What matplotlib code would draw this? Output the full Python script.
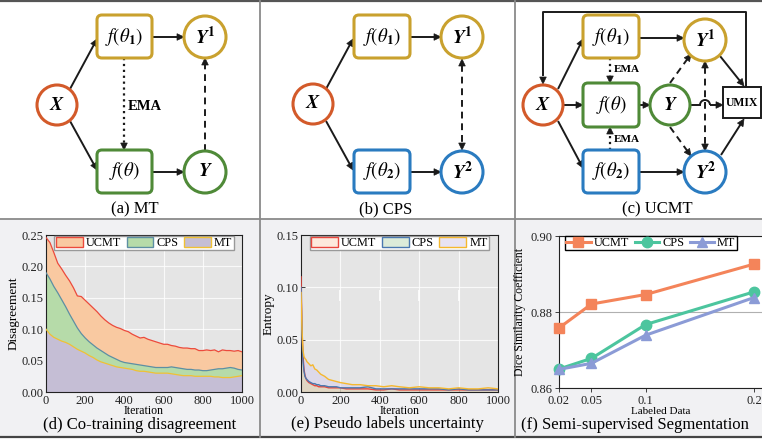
import numpy as np
import matplotlib
matplotlib.use('Agg')
import matplotlib.pyplot as plt
from matplotlib.patches import Circle, FancyBboxPatch, Rectangle, Arc, Patch, Polygon
from matplotlib.lines import Line2D

plt.rcParams['font.family'] = ['Liberation Serif', 'DejaVu Serif']
plt.rcParams['mathtext.fontset'] = 'stix'

# ---------------- data ----------------
iters_d = [0, 20, 40, 60, 80, 100, 120, 140, 160, 180, 200, 220, 240, 260, 280, 300,
           320, 340, 360, 380, 400, 420, 440, 460, 480, 500, 520, 540, 560, 580, 600,
           620, 640, 660, 680, 700, 720, 740, 760, 780, 800, 820, 840, 860, 880, 900,
           920, 940, 960, 980, 1000]
ucmt_d = [0.246, 0.238, 0.222, 0.205, 0.196, 0.186, 0.177, 0.166, 0.153, 0.152, 0.146,
          0.140, 0.134, 0.128, 0.121, 0.115, 0.110, 0.106, 0.103, 0.101, 0.098, 0.096,
          0.092, 0.089, 0.086, 0.087, 0.084, 0.082, 0.080, 0.078, 0.076, 0.076, 0.074,
          0.073, 0.071, 0.070, 0.070, 0.069, 0.069, 0.066, 0.066, 0.067, 0.066, 0.067,
          0.064, 0.067, 0.066, 0.066, 0.065, 0.066, 0.064]
cps_d = [0.190, 0.180, 0.168, 0.158, 0.147, 0.136, 0.124, 0.113, 0.102, 0.093, 0.086,
         0.080, 0.075, 0.070, 0.066, 0.062, 0.058, 0.055, 0.052, 0.049, 0.047, 0.046,
         0.045, 0.044, 0.043, 0.042, 0.041, 0.040, 0.039, 0.039, 0.039, 0.039, 0.040,
         0.039, 0.038, 0.037, 0.036, 0.036, 0.035, 0.035, 0.034, 0.034, 0.035, 0.036,
         0.037, 0.037, 0.038, 0.039, 0.038, 0.036, 0.035]
mt_d = [0.100, 0.092, 0.087, 0.084, 0.081, 0.079, 0.076, 0.072, 0.068, 0.065, 0.062,
        0.058, 0.055, 0.051, 0.048, 0.046, 0.044, 0.042, 0.040, 0.039, 0.038, 0.037,
        0.036, 0.034, 0.033, 0.033, 0.032, 0.031, 0.030, 0.030, 0.030, 0.030, 0.029,
        0.028, 0.027, 0.026, 0.026, 0.026, 0.025, 0.025, 0.025, 0.025, 0.025, 0.024,
        0.024, 0.023, 0.023, 0.023, 0.024, 0.025, 0.026]

iters_e = [0, 5, 10, 15, 20, 25, 30, 40, 50, 60, 70, 80, 90, 100, 120, 140, 160, 180,
           200, 230, 260, 300, 340, 380, 420, 460, 500, 550, 600, 650, 700, 750, 800,
           850, 900, 950, 1000]
ucmt_e = [0.110, 0.060, 0.035, 0.022, 0.016, 0.013, 0.011, 0.009, 0.008, 0.007, 0.006,
          0.006, 0.005, 0.005, 0.005, 0.004, 0.004, 0.004, 0.004, 0.003, 0.003, 0.003,
          0.003, 0.002, 0.002, 0.003, 0.002, 0.002, 0.002, 0.002, 0.002, 0.002, 0.002,
          0.002, 0.002, 0.002, 0.002]
cps_e = [0.100, 0.055, 0.030, 0.020, 0.015, 0.013, 0.012, 0.010, 0.009, 0.008, 0.008,
         0.007, 0.007, 0.006, 0.006, 0.005, 0.005, 0.005, 0.004, 0.004, 0.004, 0.004,
         0.005, 0.003, 0.003, 0.003, 0.003, 0.003, 0.003, 0.003, 0.003, 0.002, 0.003,
         0.002, 0.002, 0.002, 0.002]
mt_e = [0.095, 0.060, 0.040, 0.034, 0.032, 0.031, 0.029, 0.027, 0.025, 0.026, 0.022,
        0.021, 0.019, 0.017, 0.015, 0.012, 0.011, 0.010, 0.009, 0.008, 0.007, 0.007,
        0.006, 0.006, 0.005, 0.006, 0.005, 0.004, 0.005, 0.004, 0.004, 0.003, 0.004,
        0.003, 0.003, 0.004, 0.003]

labeled_f = [0.02, 0.05, 0.1, 0.2]
labeled_ticks = ['0.02', '0.05', '0.1', '0.2']
ucmt_f = [0.8758, 0.8821, 0.8846, 0.8926]
cps_f = [0.8650, 0.8678, 0.8767, 0.8853]
mt_f = [0.8649, 0.8665, 0.8739, 0.8838]

series_names = ['UCMT', 'CPS', 'MT']

# ---------------- figure ----------------
W, H = 762, 440
fig = plt.figure(figsize=(W / 100, H / 100), dpi=100)
fig.patch.set_facecolor('white')
ov = fig.add_axes([0, 0, 1, 1], zorder=0)
ov.set_xlim(0, W)
ov.set_ylim(H, 0)
ov.axis('off')


def px_axes(l, t, r, b, **kw):
    return fig.add_axes([l / W, 1 - b / H, (r - l) / W, (b - t) / H], **kw)


# background of bottom row and frame lines
ov.add_patch(Rectangle((0, 219), W, 218, facecolor='#f1f1f3', edgecolor='none', zorder=0))
ov.plot([0, W], [1, 1], color='#555555', lw=1.6, zorder=1)
ov.plot([0, W], [219, 219], color='#8a8a8a', lw=1.3, zorder=1)
ov.plot([0, W], [437, 437], color='#444444', lw=1.6, zorder=1)
for xv in (260, 515):
    ov.plot([xv, xv], [1, 437], color='#8a8a8a', lw=1.3, zorder=1)

ORANGE = '#d35a2a'
GOLD = '#c9a12e'
GREEN = '#4f8a38'
BLUE = '#2a7bc0'
ARROW = '#1a1a1a'
HL, HW = 7.0, 3.3


def head(tip, u):
    n = np.array([-u[1], u[0]])
    pts = [tip, tip - u * HL + n * HW, tip - u * HL - n * HW]
    ov.add_patch(Polygon(pts, closed=True, facecolor=ARROW, edgecolor=ARROW, lw=0.5, zorder=4))


def arrow(p0, p1, ls='-', both=False, lw=1.4, headed=True):
    p0 = np.array(p0, float)
    p1 = np.array(p1, float)
    d = p1 - p0
    u = d / np.hypot(*d)
    a = p0 + (u * HL * 0.8 if both else 0)
    b = p1 - (u * HL * 0.8 if headed else 0)
    ov.plot([a[0], b[0]], [a[1], b[1]], color=ARROW, lw=lw, ls=ls,
            solid_capstyle='butt', dash_capstyle='butt', zorder=3)
    if headed:
        head(p1, u)
    if both:
        head(p0, -u)


def circ(x, y, r, c, label, fs=14):
    ov.add_patch(Circle((x, y), r, facecolor='white', edgecolor=c, lw=2.2, zorder=5))
    ov.text(x, y, label, ha='center', va='center', fontsize=fs, zorder=6)


def box(x0, y0, x1, y1, c, label, fs=13.5):
    ov.add_patch(FancyBboxPatch((x0, y0), x1 - x0, y1 - y0,
                                boxstyle='round,pad=0,rounding_size=5',
                                facecolor='white', edgecolor=c, lw=2.2, zorder=5))
    ov.text((x0 + x1) / 2, (y0 + y1) / 2, label, ha='center', va='center', fontsize=fs, zorder=6)


LX = r'$\mathbfit{X}$'
LY = r'$\mathbfit{Y}$'
LY1 = r'$\mathbfit{Y}^{\mathbf{1}}$'
LY2 = r'$\mathbfit{Y}^{\mathbf{2}}$'
LF1 = r'$f(\theta_{\mathbf{1}})$'
LF2 = r'$f(\theta_{\mathbf{2}})$'
LF = r'$f(\theta)$'
DASH = (0, (3.5, 2.5))

# ----- (a) MT -----
arrow((70, 89), (97, 39))
arrow((70, 121), (97, 170))
arrow((152, 37), (184, 37))
arrow((152, 172), (184, 172))
arrow((124, 58), (124, 150), ls=':', lw=1.6)
arrow((205, 151), (205, 58), ls=DASH)
circ(57, 105, 20, ORANGE, LX)
box(97, 15, 152, 58, GOLD, LF1)
box(97, 150, 152, 193, GREEN, LF)
circ(205, 37, 21, GOLD, LY1)
circ(205, 172, 21, GREEN, LY)
ov.text(128, 107, 'EMA', ha='left', va='center', fontsize=10.5, fontweight='bold')
ov.text(135, 209, '(a) MT', ha='center', va='center', fontsize=12)

# ----- (b) CPS -----
o = 256
arrow((o + 70, 89), (o + 97, 39))
arrow((o + 70, 121), (o + 97, 170))
arrow((o + 154, 37), (o + 185, 37))
arrow((o + 154, 172), (o + 185, 172))
arrow((o + 206, 59), (o + 206, 150), ls=DASH, both=True)
circ(o + 57, 104, 20, ORANGE, LX)
box(o + 98, 15, o + 154, 58, GOLD, LF1)
box(o + 98, 150, o + 154, 193, BLUE, LF2)
circ(o + 206, 37, 21, GOLD, LY1)
circ(o + 206, 172, 21, BLUE, LY2)
ov.text(386, 209, '(b) CPS', ha='center', va='center', fontsize=12)

# ----- (c) UCMT -----
ov.plot([746, 746, 543, 543], [87, 12, 12, 75], color=ARROW, lw=1.4, zorder=3)
head(np.array([543.0, 84.0]), np.array([0.0, 1.0]))
arrow((558, 89), (583, 39))
arrow((563, 105), (583, 105))
arrow((558, 121), (583, 168))
arrow((639, 38), (684, 38))
arrow((639, 105), (650, 105))
arrow((639, 172), (684, 172))
arrow((670, 83), (691, 54), ls=DASH)
arrow((670, 127), (691, 156), ls=DASH)
arrow((705, 61), (705, 151), ls=DASH, both=True)
ov.plot([690, 700], [105, 105], color=ARROW, lw=1.4, zorder=3)
ov.add_patch(Arc((705, 105), 10, 10, theta1=180, theta2=360, color=ARROW, lw=1.4, zorder=3))
arrow((710, 105), (723, 105))
arrow((720, 56), (744, 86))
arrow((721, 155), (744, 119))
circ(543, 105, 20, ORANGE, LX)
box(583, 15, 639, 58, GOLD, LF1)
box(583, 83, 639, 127, GREEN, LF)
box(583, 150, 639, 193, BLUE, LF2)
arrow((610, 58), (610, 83), ls=':', lw=1.6)
arrow((610, 150), (610, 127), ls=':', lw=1.6)
ov.text(614, 70, 'EMA', ha='left', va='center', fontsize=8, fontweight='bold', zorder=6)
ov.text(614, 139, 'EMA', ha='left', va='center', fontsize=8, fontweight='bold', zorder=6)
circ(670, 105, 20, GREEN, LY)
circ(705, 40, 21, GOLD, LY1)
circ(705, 172, 21, BLUE, LY2)
ov.add_patch(Rectangle((723, 87), 38, 31, facecolor='white', edgecolor=ARROW, lw=1.4, zorder=5))
ov.text(742, 103, 'UMIX', ha='center', va='center', fontsize=8.5, fontweight='bold', zorder=6)
ov.text(657, 209, '(c) UCMT', ha='center', va='center', fontsize=12)


# ---------------- plots ----------------
def style_gray(ax):
    ax.set_facecolor('#e5e5e5')
    ax.grid(True, color='white', lw=0.8, alpha=0.8)
    ax.set_axisbelow(True)
    for s in ax.spines.values():
        s.set_color('#222222')
        s.set_linewidth(0.8)
    ax.tick_params(direction='in', length=3, width=0.6, labelsize=9, pad=2, colors='#222222')


LEG_KW = dict(ncol=3, fontsize=8.8, fancybox=False, framealpha=1, handlelength=2.2,
              handleheight=0.9, columnspacing=0.45, handletextpad=0.25, borderpad=0.1)

# (d)
ax_d = px_axes(46, 235, 242, 392, zorder=1)
style_gray(ax_d)
fills_d = ['#f9c9a1', '#b6dba9', '#c5bed5']
lines_d = ['#ec4a3c', '#5d8fa3', '#f0c134']
for vals, fc, lc in zip([ucmt_d, cps_d, mt_d], fills_d, lines_d):
    ax_d.fill_between(iters_d, 0, vals, facecolor=fc, edgecolor='none', zorder=2)
    ax_d.plot(iters_d, vals, color=lc, lw=0.9, zorder=3)
ax_d.set_xlim(0, 1000)
ax_d.set_ylim(0, 0.25)
ax_d.set_xticks([0, 200, 400, 600, 800, 1000])
ax_d.set_yticks([0, 0.05, 0.10, 0.15, 0.20, 0.25])
ax_d.set_yticklabels(['0.00', '0.05', '0.10', '0.15', '0.20', '0.25'])
ax_d.set_xlabel('Iteration', fontsize=8.5, labelpad=-1.5)
ax_d.set_ylabel('Disagreement', fontsize=9.5, labelpad=1)
hd = [Patch(facecolor=fc, edgecolor=lc, lw=1.0) for fc, lc in zip(fills_d, lines_d)]
ax_d.legend(hd, series_names, loc='upper center', edgecolor='#999999', borderaxespad=0.05, **LEG_KW)
ov.text(140, 425, '(d) Co-training disagreement', ha='center', va='center', fontsize=12)

# (e)
ax_e = px_axes(301, 235, 498, 392, zorder=1)
style_gray(ax_e)
fills_e = ['#fbd3b4', '#b8dbb3', '#d3caee']
lines_e = ['#e8453c', '#4a78b0', '#f5b82e']
for vals, fc in zip([mt_e, cps_e, ucmt_e], [fills_e[2], fills_e[1], fills_e[0]]):
    ax_e.fill_between(iters_e, 0, vals, facecolor=fc, alpha=0.45, edgecolor='none', zorder=2)
for vals, lc in zip([ucmt_e, cps_e, mt_e], lines_e):
    ax_e.plot(iters_e, vals, color=lc, lw=1.0, zorder=3)
ax_e.vlines([200, 400, 600, 800], 0.087, 0.097, color='white', lw=1.2, zorder=1.5)
ax_e.set_xlim(0, 1000)
ax_e.set_ylim(0, 0.15)
ax_e.set_xticks([0, 200, 400, 600, 800, 1000])
ax_e.set_yticks([0, 0.05, 0.10, 0.15])
ax_e.set_yticklabels(['0.00', '0.05', '0.10', '0.15'])
ax_e.set_xlabel('Iteration', fontsize=8.5, labelpad=-1.5)
ax_e.set_ylabel('Entropy', fontsize=9.5, labelpad=1)
he = [Patch(facecolor=fc, edgecolor=lc, lw=1.0) for fc, lc in
      zip(['#fde9dc', '#dcebd9', '#e8e3f3'], lines_e)]
ax_e.legend(he, series_names, loc='upper center', edgecolor='#999999', borderaxespad=0.05, **LEG_KW)
ov.text(387, 424, '(e) Pseudo labels uncertainty', ha='center', va='center', fontsize=12)

# (f)
ax_f = px_axes(559, 236, 762, 388, zorder=1)
ax_f.set_facecolor('white')
cols_f = ['#f4845a', '#4cc59e', '#8b9bd6']
marks_f = ['s', 'o', '^']
for vals, c, m, name in zip([ucmt_f, cps_f, mt_f], cols_f, marks_f, series_names):
    ax_f.plot(labeled_f, vals, color=c, marker=m, ms=7.5, lw=2.2, clip_on=False, label=name, zorder=3)
ax_f.set_xlim(0.02, 0.2074)
ax_f.set_ylim(0.86, 0.90)
ax_f.set_xticks(labeled_f)
ax_f.set_xticklabels(labeled_ticks)
ax_f.set_yticks([0.86, 0.88, 0.90])
ax_f.set_yticklabels(['0.86', '0.88', '0.90'])
ax_f.yaxis.grid(True, color='#b0b0b0', lw=0.8)
ax_f.set_axisbelow(True)
ax_f.spines['right'].set_visible(False)
for s in ['left', 'top', 'bottom']:
    ax_f.spines[s].set_color('#222222')
    ax_f.spines[s].set_linewidth(0.8)
ax_f.tick_params(direction='out', length=3, width=0.6, labelsize=9, pad=2, colors='#222222')
ax_f.set_xlabel('Labeled Data', fontsize=8, labelpad=0)
ax_f.set_ylabel('Dice Similarity Coefficient', fontsize=8.5, labelpad=3)
ax_f.legend(loc='upper left', bbox_to_anchor=(565 / W, 1 - 236 / H),
            bbox_transform=fig.transFigure, ncol=3, fontsize=8.8, fancybox=False, framealpha=1,
            edgecolor='black', handlelength=2.0, columnspacing=0.45, handletextpad=0.25,
            borderpad=0.1, borderaxespad=0.0)
ov.text(635, 425, '(f) Semi-supervised Segmentation', ha='center', va='center', fontsize=12)

fig.savefig('out.png', dpi=100, facecolor='white')
